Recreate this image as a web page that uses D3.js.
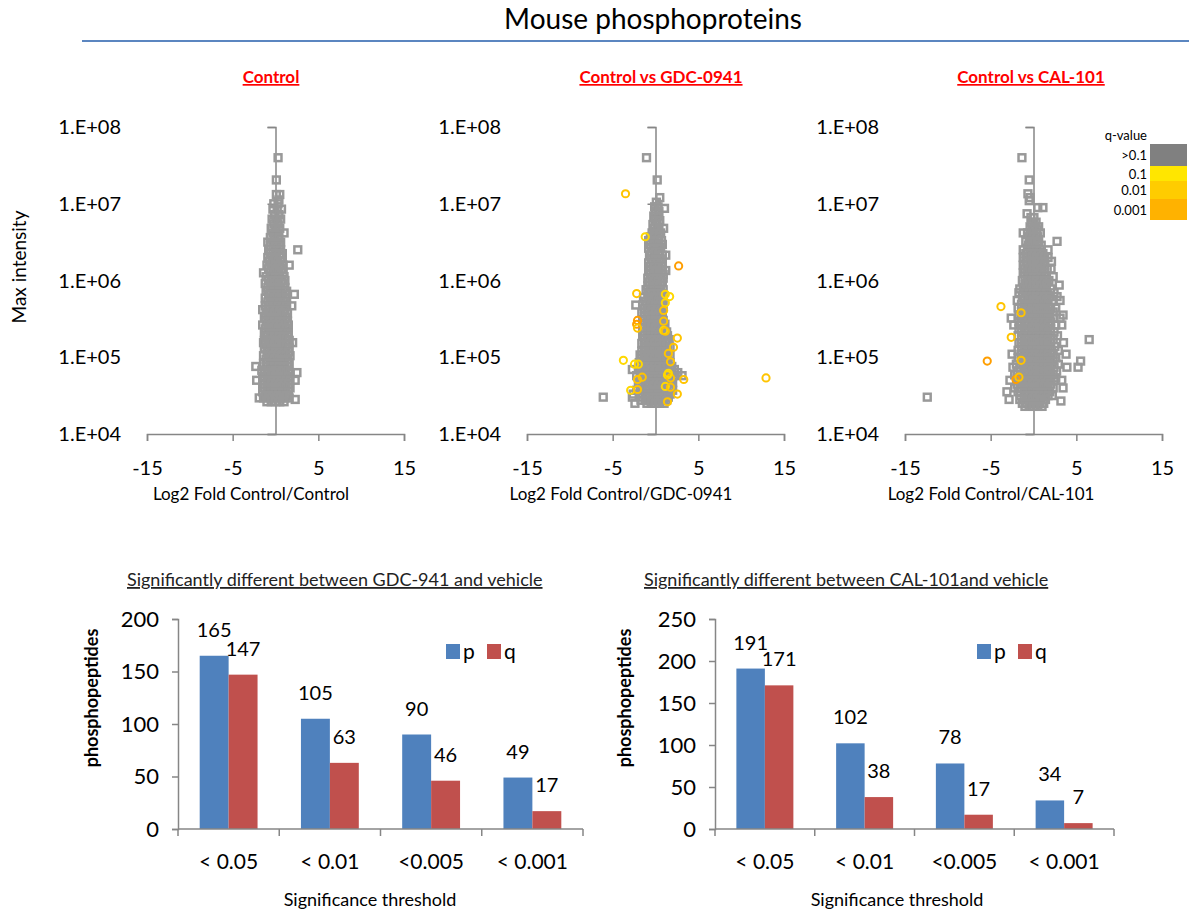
<!DOCTYPE html>
<html>
<head>
<meta charset="utf-8">
<script src="https://cdn.jsdelivr.net/npm/d3@7"></script>
<style>
  body { margin: 0; background: #fff; }
  svg text { font-family: Lato, "Open Sans", sans-serif; }
</style>
</head>
<body>
<svg id="chart" width="1189" height="917"></svg>
<script>
// ---- data -------------------------------------------------------------
// scatter rows: [log10 max intensity, [log2 fold values at that intensity]]
const controlRows = [
  [7.60, [0.3]], [7.31, [0.1]], [7.12, [0.1, 0.5]], [7.05, [0.4]], [7.00, [-0.2, 0.3]],
  [6.93, [-0.3, 0.2, 0.7]], [6.86, [-0.1, 0.4]], [6.80, [-0.4, 0.1, 0.6]], [6.74, [-0.2, 0.3]],
  [6.68, [-0.5, 0.0, 0.5]], [6.62, [-0.3, 0.2, 1.0]], [6.56, [-0.6, -0.1, 0.4]],
  [6.50, [-0.9, -0.3, 0.2, 0.6]], [6.45, [-0.6, 0.0, 0.5]], [6.40, [-0.8, -0.3, 0.2, 0.6, 2.6]],
  [6.35, [-0.6, 0.0, 0.5, 0.8]], [6.30, [-0.9, -0.4, 0.1, 0.6]], [6.25, [-0.7, -0.2, 0.3, 0.8]],
  [6.20, [-1.0, -0.5, 0.0, 0.5, 0.9, 1.6]], [6.15, [-0.8, -0.3, 0.2, 0.7]],
  [6.10, [-1.4, -0.6, -0.1, 0.4, 0.9]], [6.05, [-1.1, -0.5, 0.0, 0.5, 1.0]],
  [6.00, [-0.8, -0.3, 0.2, 0.7, 1.1]], [5.96, [-1.2, -0.6, -0.1, 0.4, 0.9]],
  [5.91, [-0.9, -0.4, 0.1, 0.6, 1.1]], [5.86, [-1.1, -0.6, -0.1, 0.4, 0.9, 1.3]],
  [5.82, [-0.8, -0.3, 0.2, 0.7, 1.2, 2.2]], [5.77, [-1.2, -0.6, -0.1, 0.4, 0.9, 1.3]],
  [5.72, [-0.9, -0.4, 0.1, 0.6, 1.1]], [5.67, [-1.2, -0.7, -0.2, 0.3, 0.8, 1.3, 1.9]],
  [5.62, [-1.5, -0.9, -0.4, 0.1, 0.6, 1.1]], [5.57, [-1.1, -0.6, -0.1, 0.4, 0.9, 1.4]],
  [5.52, [-1.3, -0.8, -0.3, 0.2, 0.7, 1.2]], [5.47, [-1.1, -0.6, -0.1, 0.4, 0.9, 1.4]],
  [5.42, [-1.5, -0.9, -0.4, 0.1, 0.6, 1.1, 1.5]], [5.37, [-1.2, -0.7, -0.2, 0.3, 0.8, 1.3]],
  [5.32, [-1.3, -0.9, -0.4, 0.1, 0.6, 1.1, 1.5]], [5.27, [-1.1, -0.6, -0.1, 0.4, 0.9, 1.4]],
  [5.22, [-1.3, -0.8, -0.3, 0.2, 0.7, 1.2, 1.6]], [5.19, [-1.4, 2.0]],
  [5.17, [-1.1, -0.6, -0.1, 0.4, 0.9, 1.4]], [5.12, [-1.3, -0.8, -0.3, 0.2, 0.7, 1.2, 1.6]],
  [5.07, [-1.0, -0.5, 0.0, 0.5, 1.0, 1.5]], [5.02, [-1.4, -0.8, -0.3, 0.2, 0.7, 1.2, 1.7]],
  [4.97, [-1.1, -0.6, -0.1, 0.4, 0.9, 1.4]], [4.92, [-1.4, -0.9, -0.4, 0.1, 0.6, 1.1, 1.6]],
  [4.88, [-2.3, -1.1, -0.6, -0.1, 0.4, 0.9, 1.4]], [4.83, [-1.6, -1.0, -0.5, 0.0, 0.5, 1.0, 1.5]],
  [4.80, [-1.3, -0.8, -0.3, 0.2, 0.7, 1.2, 1.7, 2.5]], [4.75, [-1.5, -1.0, -0.5, 0.0, 0.5, 1.0, 1.5]],
  [4.70, [-2.2, -1.3, -0.8, -0.3, 0.2, 0.7, 1.2, 1.7, 2.3]], [4.65, [-1.5, -1.0, -0.5, 0.0, 0.5, 1.0, 1.5]],
  [4.60, [-1.3, -0.8, -0.3, 0.2, 0.7, 1.2, 1.7]], [4.55, [-1.5, -1.0, -0.5, 0.0, 0.5, 1.0, 1.5]],
  [4.50, [-1.2, -0.7, -0.2, 0.3, 0.8, 1.3]], [4.47, [-1.9, -1.4, -0.9, -0.4, 0.1, 0.6, 1.1, 1.6]],
  [4.45, [2.3]], [4.42, [-1.0, -0.5, 0.0, 0.5, 1.0]]
];

const gdcRows = [
  [7.60, [-1.05]], [7.31, [0.2]], [7.08, [0.5]], [7.02, [0.1]], [6.96, [-0.1, 0.3]], [6.94, [1.05]],
  [6.90, [0.0, 0.4]], [6.84, [-0.2, 0.3]], [6.78, [0.0, 0.5]], [6.73, [-0.3, 0.2]],
  [6.68, [-0.1, 0.4, 0.95]], [6.62, [-0.4, 0.1, 0.6]], [6.57, [-0.6, -0.1, 0.4]],
  [6.52, [-0.8, -0.3, 0.2, 0.7]], [6.47, [-0.6, -0.1, 0.4, 0.8]], [6.42, [-0.8, -0.3, 0.2, 0.6]],
  [6.37, [-0.5, 0.0, 0.5]], [6.33, [-0.7, -0.2, 0.3, 0.8, 1.2]], [6.28, [-0.5, 0.0, 0.5, 0.8]],
  [6.23, [-0.8, -0.3, 0.2, 0.7]], [6.18, [-0.6, -0.1, 0.4, 0.8]], [6.13, [-0.8, -0.3, 0.2, 0.7, 1.2]],
  [6.08, [-0.6, -0.1, 0.4, 0.9]], [6.03, [-0.9, -0.4, 0.1, 0.6, 0.9]], [5.98, [-0.7, -0.2, 0.3, 0.8]],
  [5.93, [-0.9, -0.4, 0.1, 0.6]], [5.88, [-1.1, -0.6, -0.1, 0.4, 0.9]], [5.83, [-0.8, -0.3, 0.2, 0.7]],
  [5.78, [-1.4, -0.9, -0.4, 0.1, 0.6, 0.9]], [5.73, [-1.2, -0.7, -0.2, 0.3, 0.7]],
  [5.68, [-2.3, -1.5, -1.0, -0.5, 0.0, 0.5, 0.9]], [5.63, [-1.3, -0.8, -0.3, 0.2, 0.7]],
  [5.58, [-1.6, -1.0, -0.5, 0.0, 0.5, 0.8]], [5.53, [-1.3, -0.8, -0.3, 0.2, 0.7]],
  [5.48, [-1.5, -1.0, -0.5, 0.0, 0.5, 0.9]], [5.43, [-1.3, -0.8, -0.3, 0.2, 0.7, 1.1]],
  [5.38, [-1.5, -1.0, -0.5, 0.0, 0.5, 1.0]], [5.33, [-1.3, -0.8, -0.3, 0.2, 0.7, 1.3]],
  [5.28, [-1.5, -1.0, -0.5, 0.0, 0.5, 1.0, 1.4]], [5.23, [-1.3, -0.8, -0.3, 0.2, 0.7, 1.2, 1.6]],
  [5.18, [-1.6, -1.1, -0.6, -0.1, 0.4, 0.9, 1.4]], [5.13, [-1.3, -0.8, -0.3, 0.2, 0.7, 1.2, 1.7]],
  [5.08, [-1.6, -1.1, -0.6, -0.1, 0.4, 0.9, 1.4]], [5.03, [-1.8, -1.3, -0.8, -0.3, 0.2, 0.7, 1.2, 1.7]],
  [4.98, [-1.6, -1.1, -0.6, -0.1, 0.4, 0.9, 1.4]], [4.93, [-1.9, -1.3, -0.8, -0.3, 0.2, 0.7, 1.2, 1.7]],
  [4.88, [-1.6, -1.1, -0.6, -0.1, 0.4, 0.9, 1.4, 1.9]],
  [4.84, [-2.7, -2.0, -1.4, -0.8, -0.3, 0.2, 0.7, 1.2, 1.7, 2.2]],
  [4.80, [-1.7, -1.1, -0.6, -0.1, 0.4, 0.9, 1.4, 1.9, 2.6]],
  [4.76, [-2.2, -1.5, -0.9, -0.4, 0.1, 0.6, 1.1, 1.6, 2.1, 3.1]],
  [4.72, [-1.8, -1.2, -0.7, -0.2, 0.3, 0.8, 1.3, 1.8]],
  [4.67, [-2.0, -1.5, -0.9, -0.4, 0.1, 0.6, 1.1, 1.6, 2.0]],
  [4.62, [-1.8, -1.2, -0.7, -0.2, 0.3, 0.8, 1.3, 1.8]],
  [4.57, [-2.2, -1.5, -0.9, -0.4, 0.1, 0.6, 1.1, 1.6, 2.0]],
  [4.52, [-2.6, -1.7, -1.2, -0.7, -0.2, 0.3, 0.8, 1.3, 1.7]],
  [4.48, [-6.1, -2.7, -1.5, -0.9, -0.4, 0.1, 0.6, 1.1, 1.5]],
  [4.44, [-1.7, -1.2, -0.7, -0.2, 0.3, 0.8, 1.3]], [4.40, [-2.4, -1.0, -0.5, 0.0, 0.5, 1.0]]
];

const calRows = [
  [7.60, [-1.35]], [7.31, [-0.5]], [7.13, [-0.65]], [7.08, [-0.4]], [7.04, [-0.5]], [6.95, [0.5, 1.1]],
  [6.87, [-0.75]], [6.82, [-0.3, 0.05]], [6.76, [-0.2, 0.3]], [6.70, [-0.4, 0.1, 0.6]], [6.66, [-0.1, 0.4]],
  [6.62, [-1.2, -0.7, -0.2, 0.3, 0.8]], [6.57, [-0.5, 0.0, 0.5]], [6.51, [-0.9, -0.4, 0.1, 0.6, 2.75]],
  [6.46, [-0.6, -0.1, 0.4, 0.9]], [6.40, [-1.2, -0.7, -0.2, 0.3, 0.8, 1.7]],
  [6.35, [-0.9, -0.4, 0.1, 0.6, 1.1]], [6.30, [-1.2, -0.7, -0.2, 0.3, 0.8, 1.3, 1.7]],
  [6.25, [-0.9, -0.4, 0.1, 0.6, 1.1, 2.1]], [6.20, [-1.2, -0.7, -0.2, 0.3, 0.8, 1.3]],
  [6.15, [-1.0, -0.5, 0.0, 0.5, 1.0, 1.6, 2.05]], [6.10, [-1.2, -0.7, -0.2, 0.3, 0.8, 1.3]],
  [6.05, [-1.0, -0.5, 0.0, 0.5, 1.0, 1.5, 2.3]], [6.00, [-1.3, -0.7, -0.2, 0.3, 0.8, 1.3, 1.8]],
  [5.94, [-1.0, -0.5, 0.0, 0.5, 1.0, 1.5, 3.0]], [5.89, [-1.6, -1.2, -0.7, -0.2, 0.3, 0.8, 1.3, 2.0]],
  [5.84, [-1.7, -1.0, -0.5, 0.0, 0.5, 1.0, 1.5, 2.4]], [5.79, [-1.3, -0.7, -0.2, 0.3, 0.8, 1.3, 1.8, 2.75]],
  [5.74, [-1.9, -1.0, -0.5, 0.0, 0.5, 1.0, 1.5, 2.2, 3.1]], [5.69, [-1.4, -0.8, -0.3, 0.2, 0.7, 1.2, 1.7]],
  [5.64, [-1.8, -1.1, -0.6, -0.1, 0.4, 0.9, 1.4, 2.0, 2.6]],
  [5.59, [-1.4, -0.8, -0.3, 0.2, 0.7, 1.2, 1.7, 2.3]],
  [5.55, [-1.7, -1.1, -0.6, -0.1, 0.4, 0.9, 1.4, 1.9, 3.45]],
  [5.51, [-2.6, -1.4, -0.8, -0.3, 0.2, 0.7, 1.2, 1.7, 2.4, 3.1]],
  [5.46, [-1.7, -1.1, -0.6, -0.1, 0.4, 0.9, 1.4, 2.0]],
  [5.42, [-2.3, -1.4, -0.8, -0.3, 0.2, 0.7, 1.2, 1.7, 2.6, 3.3]],
  [5.37, [-1.7, -1.1, -0.6, -0.1, 0.4, 0.9, 1.4, 2.0]],
  [5.33, [-1.4, -0.8, -0.3, 0.2, 0.7, 1.2, 1.7, 2.4]],
  [5.28, [-1.8, -1.1, -0.6, -0.1, 0.4, 0.9, 1.4, 2.0, 2.8]],
  [5.23, [-1.4, -0.8, -0.3, 0.2, 0.7, 1.2, 1.7, 2.3, 6.5]],
  [5.19, [-1.7, -1.1, -0.6, -0.1, 0.4, 0.9, 1.4, 2.0, 3.5]],
  [5.14, [-1.4, -0.8, -0.3, 0.2, 0.7, 1.2, 1.7, 2.5]],
  [5.09, [-1.8, -1.1, -0.6, -0.1, 0.4, 0.9, 1.4, 2.0, 2.9]],
  [5.04, [-2.5, -1.4, -0.8, -0.3, 0.2, 0.7, 1.2, 1.7, 2.3, 3.8]],
  [4.99, [-1.8, -1.1, -0.6, -0.1, 0.4, 0.9, 1.4, 2.0, 2.6]],
  [4.95, [-1.4, -0.8, -0.3, 0.2, 0.7, 1.2, 1.7, 2.3, 5.5]],
  [4.91, [-2.0, -1.1, -0.6, -0.1, 0.4, 0.9, 1.4, 2.0, 2.9]],
  [4.87, [-2.4, -1.5, -0.8, -0.3, 0.2, 0.7, 1.2, 1.7, 2.4, 3.9, 5.2]],
  [4.82, [-1.9, -1.1, -0.6, -0.1, 0.4, 0.9, 1.4, 2.0, 2.7]],
  [4.77, [-2.2, -1.5, -0.8, -0.3, 0.2, 0.7, 1.2, 1.7, 2.3]],
  [4.73, [-1.9, -1.1, -0.6, -0.1, 0.4, 0.9, 1.4, 2.0, 2.6]],
  [4.70, [-2.75, -1.5, -0.8, -0.3, 0.2, 0.7, 1.2, 1.7, 2.4, 3.3]],
  [4.65, [-1.9, -1.1, -0.6, -0.1, 0.4, 0.9, 1.4, 2.0]],
  [4.60, [-2.2, -1.5, -0.8, -0.3, 0.2, 0.7, 1.2, 1.7, 2.3, 3.45]],
  [4.55, [-3.1, -1.8, -1.1, -0.6, -0.1, 0.4, 0.9, 1.4, 1.9]],
  [4.50, [-1.5, -0.8, -0.3, 0.2, 0.7, 1.2, 1.7, 2.2]], [4.48, [-12.4]],
  [4.45, [-2.85, -1.6, -1.1, -0.6, -0.1, 0.4, 0.9, 1.4]], [4.43, [3.2]],
  [4.40, [-1.3, -0.8, -0.3, 0.2, 0.7, 1.2]], [4.36, [-1.0, -0.5, 0.0, 0.5, 1.0]]
];

// significant peptides: [log2 fold, log10 intensity, q-class (1 = 0.1, 2 = 0.01, 3 = 0.001)]
const gdcSig = [
  [-3.5, 7.13, 2], [-1.2, 6.57, 1], [2.7, 6.19, 3], [-2.2, 5.83, 2], [1.15, 5.82, 1], [1.65, 5.79, 1],
  [1.15, 5.71, 1], [0.95, 5.61, 2], [-2.1, 5.48, 3], [-2.2, 5.43, 3], [-2.1, 5.38, 2], [0.95, 5.47, 2],
  [0.95, 5.35, 1], [1.15, 5.34, 2], [2.55, 5.25, 2], [2.1, 5.13, 2], [1.5, 5.05, 2], [1.75, 4.94, 2],
  [-3.75, 4.96, 1], [-2.45, 4.91, 1], [-2.0, 4.91, 1], [-1.55, 4.74, 2], [-2.1, 4.71, 2], [1.4, 4.77, 1],
  [1.75, 4.73, 2], [3.3, 4.71, 2], [12.9, 4.73, 2], [-2.9, 4.57, 1], [-2.1, 4.58, 2], [1.15, 4.62, 1],
  [1.75, 4.61, 2], [2.55, 4.52, 2], [1.4, 4.42, 2], [1.5, 4.79, 1]
];
const calSig = [
  [-3.8, 5.66, 2], [-2.6, 5.26, 2], [-5.4, 4.95, 3], [-1.45, 5.58, 2], [-1.45, 4.96, 2],
  [-2.05, 4.71, 3], [-1.7, 4.74, 2]
];

const xTickValues = [-15, -5, 5, 15];
const yTickValues = [1e4, 1e5, 1e6, 1e7, 1e8];
const yTickLabels = ["1.E+04", "1.E+05", "1.E+06", "1.E+07", "1.E+08"];

const qLegendLabels = [">0.1", "0.1", "0.01", "0.001"];
const qLegendColors = ["#808080", "#FFE600", "#FFCC00", "#FFB200"];
const qMarkerColors = { 1: "#FFD800", 2: "#FFC400", 3: "#FF9E00" };

const barCategories = ["< 0.05", "< 0.01", "<0.005", "< 0.001"];
const gdcP = [165, 105, 90, 49];
const gdcQ = [147, 63, 46, 17];
const calP = [191, 102, 78, 34];
const calQ = [171, 38, 17, 7];

// ---- drawing ----------------------------------------------------------
const svg = d3.select("#chart");
svg.append("rect").attr("width", 1189).attr("height", 917).attr("fill", "#fff");

const axisGray = "#868686";

svg.append("text")
  .attr("x", 653).attr("y", 29)
  .attr("text-anchor", "middle")
  .attr("font-size", 28)
  .text("Mouse phosphoproteins");

svg.append("line")
  .attr("x1", 82).attr("x2", 1189).attr("y1", 41).attr("y2", 41)
  .attr("stroke", "#5b86c0").attr("stroke-width", 2);

const panels = [
  { rows: controlRows, sig: [], left: 147, right: 404, title: "Control", titleX: 271,
    xTitle: "Log2 Fold Control/Control", xTitleX: 251 },
  { rows: gdcRows, sig: gdcSig, left: 527, right: 784, title: "Control vs GDC-0941", titleX: 661,
    xTitle: "Log2 Fold Control/GDC-0941", xTitleX: 621 },
  { rows: calRows, sig: calSig, left: 905, right: 1162, title: "Control vs CAL-101", titleX: 1031,
    xTitle: "Log2 Fold Control/CAL-101", xTitleX: 991 }
];

const yTop = 127, yBottom = 434;

panels.forEach(p => {
  const x = d3.scaleLinear().domain([-15, 15]).range([p.left, p.right]);
  const y = d3.scaleLog().domain([1e4, 1e8]).range([yBottom, yTop]);
  const g = svg.append("g");

  g.append("text")
    .attr("x", p.titleX).attr("y", 83)
    .attr("text-anchor", "middle")
    .attr("font-size", 17).attr("font-weight", "bold")
    .attr("fill", "#ff0000")
    .style("text-decoration", "underline")
    .text(p.title);

  // x axis along the bottom
  const xAxis = d3.axisBottom(x).tickValues(xTickValues).tickSize(7).tickPadding(20)
    .tickFormat(d => String(d));
  const gx = g.append("g").attr("transform", `translate(0,${yBottom})`).call(xAxis);
  gx.select(".domain").attr("stroke", axisGray).attr("stroke-width", 1.5);
  gx.selectAll(".tick line").attr("stroke", axisGray).attr("stroke-width", 1.5);
  gx.selectAll(".tick text").attr("font-size", 20).attr("fill", "#000")
    .style("font-family", "Lato, sans-serif");

  // y axis crosses at 0
  const yAxis = d3.axisLeft(y).tickValues(yTickValues).tickSize(8).tickFormat("");
  const gy = g.append("g").attr("transform", `translate(${x(0)},0)`).call(yAxis);
  gy.select(".domain").attr("stroke", axisGray).attr("stroke-width", 1.5);
  gy.selectAll(".tick line").attr("stroke", axisGray).attr("stroke-width", 1.5);

  g.selectAll("text.ylab")
    .data(yTickValues)
    .join("text")
    .attr("class", "ylab")
    .attr("x", p.left - 26)
    .attr("y", d => y(d) + 7)
    .attr("text-anchor", "end")
    .attr("font-size", 20)
    .text((d, i) => yTickLabels[i]);

  g.append("text")
    .attr("x", p.xTitleX).attr("y", 500)
    .attr("text-anchor", "middle")
    .attr("font-size", 17)
    .text(p.xTitle);

  const pts = p.rows.flatMap(([lg, xs]) => xs.map(v => [v, Math.pow(10, lg)]));
  const s = 6.8;
  g.append("g").selectAll("rect")
    .data(pts)
    .join("rect")
    .attr("x", d => x(d[0]) - s / 2)
    .attr("y", d => y(d[1]) - s / 2)
    .attr("width", s).attr("height", s)
    .attr("fill", "none")
    .attr("stroke", "#999999")
    .attr("stroke-width", 2.5);

  g.append("g").selectAll("circle")
    .data(p.sig)
    .join("circle")
    .attr("cx", d => x(d[0]))
    .attr("cy", d => y(Math.pow(10, d[1])))
    .attr("r", 3.6)
    .attr("fill", "none")
    .attr("stroke", d => qMarkerColors[d[2]])
    .attr("stroke-width", 2);
});

svg.append("text")
  .attr("transform", "translate(26,267) rotate(-90)")
  .attr("text-anchor", "middle")
  .attr("font-size", 19)
  .text("Max intensity");

// q-value legend
const lg = svg.append("g");
lg.append("text").attr("x", 1147).attr("y", 140).attr("text-anchor", "end")
  .attr("font-size", 13).text("q-value");
const legendEdges = [144, 166, 181, 199, 220];
qLegendLabels.forEach((lab, i) => {
  lg.append("rect")
    .attr("x", 1150).attr("y", legendEdges[i])
    .attr("width", 37).attr("height", legendEdges[i + 1] - legendEdges[i])
    .attr("fill", qLegendColors[i]);
  lg.append("text")
    .attr("x", 1147).attr("y", (legendEdges[i] + legendEdges[i + 1]) / 2 + 5)
    .attr("text-anchor", "end")
    .attr("font-size", 13)
    .text(lab);
});

// ---- bar charts -------------------------------------------------------
const barBlue = "#4F81BD", barRed = "#C0504D";
const barCharts = [
  { p: gdcP, q: gdcQ, max: 200, left: 178, right: 583, title: "Significantly different between GDC-941 and vehicle",
    titleX: 127, yTitleX: 92, xTitleX: 370, legendX: 446 },
  { p: calP, q: calQ, max: 250, left: 715, right: 1114, title: "Significantly different between CAL-101and vehicle",
    titleX: 644, yTitleX: 625, xTitleX: 897, legendX: 977 }
];

barCharts.forEach(c => {
  const g = svg.append("g");
  const x = d3.scaleBand().domain(barCategories).range([c.left, c.right]).padding(0);
  const inner = d3.scaleBand().domain(["p", "q"]).range([0, x.bandwidth()])
    .paddingInner(0).paddingOuter(0.75);
  const y = d3.scaleLinear().domain([0, c.max]).range([829, 619]);

  g.append("text")
    .attr("x", c.titleX).attr("y", 586)
    .attr("font-size", 18).attr("fill", "#222")
    .style("text-decoration", "underline")
    .text(c.title);

  const rows = barCategories.map((cat, i) => ({ cat, p: c.p[i], q: c.q[i] }));
  ["p", "q"].forEach(key => {
    g.append("g").selectAll("rect")
      .data(rows)
      .join("rect")
      .attr("x", d => x(d.cat) + inner(key))
      .attr("y", d => y(d[key]))
      .attr("width", inner.bandwidth())
      .attr("height", d => y(0) - y(d[key]))
      .attr("fill", key === "p" ? barBlue : barRed);
    g.append("g").selectAll("text")
      .data(rows)
      .join("text")
      .attr("x", d => x(d.cat) + inner(key) + inner.bandwidth() / 2)
      .attr("y", d => y(d[key]) - 19)
      .attr("text-anchor", "middle")
      .attr("font-size", 20)
      .text(d => d[key]);
  });

  const yAxis = d3.axisLeft(y).ticks(c.max / 50).tickSize(6).tickPadding(13);
  const gy = g.append("g").attr("transform", `translate(${c.left},0)`).call(yAxis);
  gy.select(".domain").attr("stroke", axisGray).attr("stroke-width", 1.5);
  gy.selectAll(".tick line").attr("stroke", axisGray).attr("stroke-width", 1.5);
  gy.selectAll(".tick text").attr("font-size", 22).attr("fill", "#000")
    .style("font-family", "Lato, sans-serif");

  const gx = g.append("g").attr("transform", "translate(0,829)");
  gx.append("line").attr("x1", c.left).attr("x2", c.right)
    .attr("stroke", axisGray).attr("stroke-width", 1.5);
  const edges = barCategories.map(d => x(d)).concat([c.right]);
  gx.selectAll("line.tk").data(edges).join("line").attr("class", "tk")
    .attr("x1", d => d).attr("x2", d => d).attr("y1", 0).attr("y2", 7)
    .attr("stroke", axisGray).attr("stroke-width", 1.5);
  gx.selectAll("text").data(barCategories).join("text")
    .attr("x", d => x(d) + x.bandwidth() / 2)
    .attr("y", 40)
    .attr("text-anchor", "middle")
    .attr("font-size", 21)
    .text(d => d);

  g.append("text")
    .attr("x", c.xTitleX).attr("y", 906)
    .attr("text-anchor", "middle")
    .attr("font-size", 18)
    .text("Significance threshold");

  g.append("text")
    .attr("transform", `translate(${c.yTitleX + 6},698) rotate(-90)`)
    .attr("text-anchor", "middle")
    .attr("font-size", 18).attr("font-weight", "bold")
    .text("phosphopeptides");

  // legend p / q
  [["p", barBlue], ["q", barRed]].forEach(([lab, col], i) => {
    const lx = c.legendX + i * 41;
    g.append("rect").attr("x", lx).attr("y", 644).attr("width", 14).attr("height", 15).attr("fill", col);
    g.append("text").attr("x", lx + 17).attr("y", 659).attr("font-size", 21).text(lab);
  });
});
</script>
</body>
</html>
